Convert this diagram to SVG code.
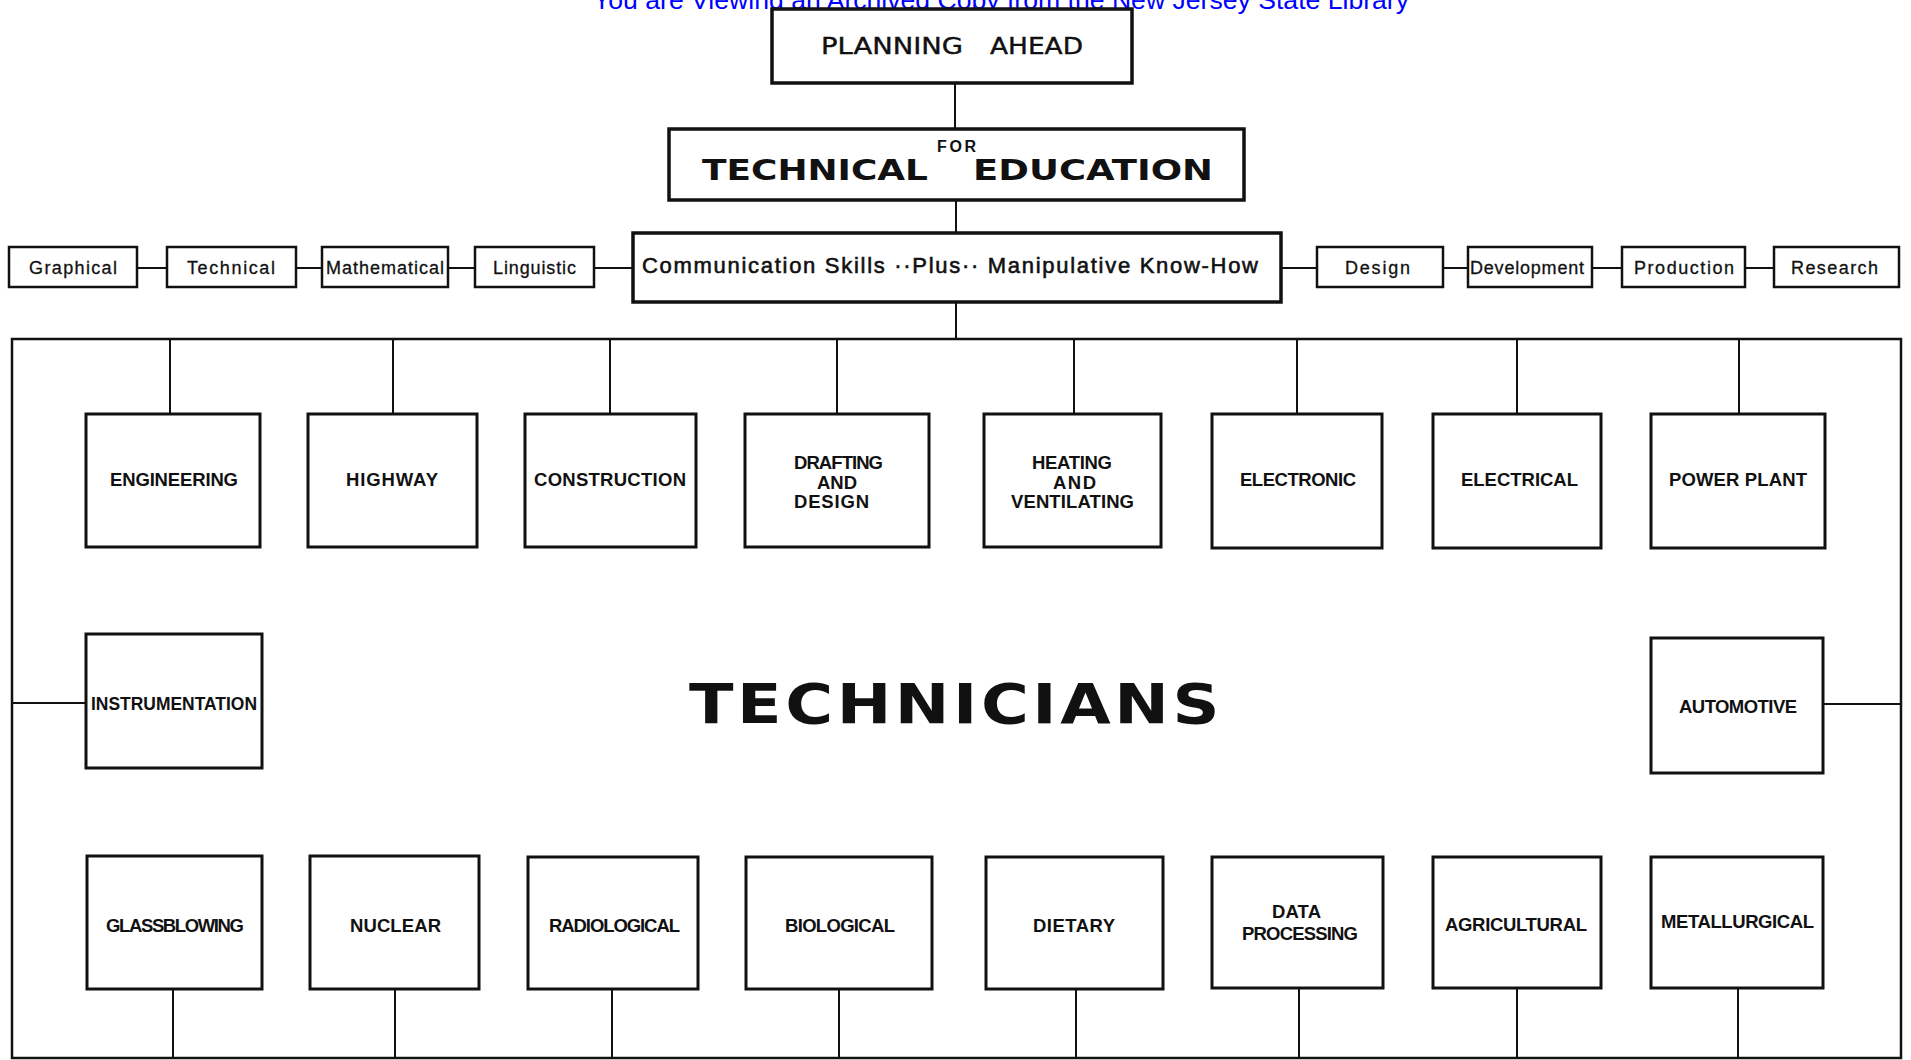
<svg xmlns="http://www.w3.org/2000/svg" width="1911" height="1060" viewBox="0 0 1911 1060">
<style>
  .bg { fill: #ffffff; }
  .box { fill: #ffffff; stroke: #111111; stroke-width: 3; }
  .hbox { fill: #ffffff; stroke: #111111; stroke-width: 3.5; }
  .sbox { fill: #ffffff; stroke: #111111; stroke-width: 2.5; }
  .conn { stroke: #111111; stroke-width: 2; fill: none; }
  .frame { stroke: #111111; stroke-width: 2.5; fill: none; }
  .lbl { font-family: "Liberation Sans", Arial, sans-serif; font-weight: bold; font-size: 18.5px; fill: #111111; }
  .sm { font-family: "Liberation Sans", Arial, sans-serif; font-size: 18px; fill: #111111; stroke: #111111; stroke-width: 0.3; }
  .mid { font-family: "Liberation Sans", Arial, sans-serif; font-size: 22px; fill: #111111; stroke: #111111; stroke-width: 0.6; }
  .head { font-family: "DejaVu Sans", "Liberation Sans", sans-serif; font-size: 23px; fill: #111111; stroke: #111111; stroke-width: 0.4; }
  .big { font-family: "DejaVu Sans", "Liberation Sans", sans-serif; font-weight: bold; font-size: 29px; fill: #111111; }
  .for { font-family: "Liberation Sans", Arial, sans-serif; font-weight: bold; font-size: 16px; fill: #111111; }
  .tech { font-family: "DejaVu Sans", "Liberation Sans", sans-serif; font-weight: bold; font-size: 55px; fill: #111111; letter-spacing: 3px; }
  .banner { font-family: "Liberation Sans", Arial, sans-serif; font-size: 26.5px; fill: #0000ff; }
</style>
<rect class="bg" x="0" y="0" width="1911" height="1060"/>

<g id="connectors">
  <line class="conn" x1="955" y1="83" x2="955" y2="129"/>
  <line class="conn" x1="956" y1="200" x2="956" y2="233"/>
  <line class="conn" x1="956" y1="302" x2="956" y2="339"/>
  <line class="conn" x1="137" y1="268" x2="167" y2="268"/>
  <line class="conn" x1="296" y1="268" x2="322" y2="268"/>
  <line class="conn" x1="448" y1="268" x2="475" y2="268"/>
  <line class="conn" x1="594" y1="268" x2="633" y2="268"/>
  <line class="conn" x1="1281" y1="268" x2="1317" y2="268"/>
  <line class="conn" x1="1443" y1="268" x2="1468" y2="268"/>
  <line class="conn" x1="1592" y1="268" x2="1622" y2="268"/>
  <line class="conn" x1="1745" y1="268" x2="1774" y2="268"/>
  <rect class="frame" x="12" y="339" width="1889" height="719"/>
  <line class="conn" x1="170" y1="339" x2="170" y2="414"/>
  <line class="conn" x1="393" y1="339" x2="393" y2="414"/>
  <line class="conn" x1="610" y1="339" x2="610" y2="414"/>
  <line class="conn" x1="837" y1="339" x2="837" y2="414"/>
  <line class="conn" x1="1074" y1="339" x2="1074" y2="414"/>
  <line class="conn" x1="1297" y1="339" x2="1297" y2="414"/>
  <line class="conn" x1="1517" y1="339" x2="1517" y2="414"/>
  <line class="conn" x1="1739" y1="339" x2="1739" y2="414"/>
  <line class="conn" x1="12" y1="703" x2="86" y2="703"/>
  <line class="conn" x1="1823" y1="704" x2="1901" y2="704"/>
  <line class="conn" x1="173" y1="989" x2="173" y2="1058"/>
  <line class="conn" x1="395" y1="989" x2="395" y2="1058"/>
  <line class="conn" x1="612" y1="989" x2="612" y2="1058"/>
  <line class="conn" x1="839" y1="989" x2="839" y2="1058"/>
  <line class="conn" x1="1076" y1="989" x2="1076" y2="1058"/>
  <line class="conn" x1="1299" y1="989" x2="1299" y2="1058"/>
  <line class="conn" x1="1517" y1="989" x2="1517" y2="1058"/>
  <line class="conn" x1="1738" y1="989" x2="1738" y2="1058"/>
</g>

<text class="banner" x="593" y="8.5" textLength="816" lengthAdjust="spacingAndGlyphs">You are Viewing an Archived Copy from the New Jersey State Library</text>

<g id="planning-ahead">
  <rect class="hbox" x="772" y="9" width="360" height="74"/>
  <text class="head" x="821" y="54" textLength="142" lengthAdjust="spacingAndGlyphs">PLANNING</text>
  <text class="head" x="990" y="54" textLength="93" lengthAdjust="spacingAndGlyphs">AHEAD</text>
</g>

<g id="technical-education">
  <rect class="hbox" x="669" y="129" width="575" height="71"/>
  <text class="for" x="937" y="152" textLength="39" lengthAdjust="spacing">FOR</text>
  <text class="big" x="702" y="180" textLength="226" lengthAdjust="spacingAndGlyphs">TECHNICAL</text>
  <text class="big" x="973" y="180" textLength="240" lengthAdjust="spacingAndGlyphs">EDUCATION</text>
</g>

<g id="communication">
  <rect class="hbox" x="633" y="233" width="648" height="69"/>
  <text class="mid" x="642" y="273" textLength="616" lengthAdjust="spacing">Communication  Skills ··Plus·· Manipulative  Know-How</text>
</g>

<g id="graphical"><rect class="sbox" x="9" y="247" width="128" height="40"/><text class="sm" x="29" y="274" textLength="88" lengthAdjust="spacing">Graphical</text></g>
<g id="technical"><rect class="sbox" x="167" y="247" width="129" height="40"/><text class="sm" x="187" y="274" textLength="88" lengthAdjust="spacing">Technical</text></g>
<g id="mathematical"><rect class="sbox" x="322" y="247" width="126" height="40"/><text class="sm" x="326" y="274" textLength="118" lengthAdjust="spacing">Mathematical</text></g>
<g id="linguistic"><rect class="sbox" x="475" y="247" width="119" height="40"/><text class="sm" x="493" y="274" textLength="83" lengthAdjust="spacing">Linguistic</text></g>
<g id="design"><rect class="sbox" x="1317" y="247" width="126" height="40"/><text class="sm" x="1345" y="274" textLength="65" lengthAdjust="spacing">Design</text></g>
<g id="development"><rect class="sbox" x="1468" y="247" width="124" height="40"/><text class="sm" x="1470" y="274" textLength="114" lengthAdjust="spacing">Development</text></g>
<g id="production"><rect class="sbox" x="1622" y="247" width="123" height="40"/><text class="sm" x="1634" y="274" textLength="100" lengthAdjust="spacing">Production</text></g>
<g id="research"><rect class="sbox" x="1774" y="247" width="125" height="40"/><text class="sm" x="1791" y="274" textLength="87" lengthAdjust="spacing">Research</text></g>

<g id="engineering"><rect class="box" x="86" y="414" width="174" height="133"/><text class="lbl" x="110" y="486" textLength="128" lengthAdjust="spacing">ENGINEERING</text></g>
<g id="highway"><rect class="box" x="308" y="414" width="169" height="133"/><text class="lbl" x="346" y="486" textLength="92" lengthAdjust="spacing">HIGHWAY</text></g>
<g id="construction"><rect class="box" x="525" y="414" width="171" height="133"/><text class="lbl" x="534" y="486" textLength="152" lengthAdjust="spacing">CONSTRUCTION</text></g>
<g id="drafting"><rect class="box" x="745" y="414" width="184" height="133"/>
  <text class="lbl" x="794" y="469" textLength="89" lengthAdjust="spacing">DRAFTING</text>
  <text class="lbl" x="817" y="489" textLength="40" lengthAdjust="spacing">AND</text>
  <text class="lbl" x="794" y="508" textLength="75" lengthAdjust="spacing">DESIGN</text></g>
<g id="heating"><rect class="box" x="984" y="414" width="177" height="133"/>
  <text class="lbl" x="1032" y="469" textLength="80" lengthAdjust="spacing">HEATING</text>
  <text class="lbl" x="1053" y="489" textLength="43" lengthAdjust="spacing">AND</text>
  <text class="lbl" x="1011" y="508" textLength="123" lengthAdjust="spacing">VENTILATING</text></g>
<g id="electronic"><rect class="box" x="1212" y="414" width="170" height="134"/><text class="lbl" x="1240" y="486" textLength="116" lengthAdjust="spacing">ELECTRONIC</text></g>
<g id="electrical"><rect class="box" x="1433" y="414" width="168" height="134"/><text class="lbl" x="1461" y="486" textLength="117" lengthAdjust="spacing">ELECTRICAL</text></g>
<g id="power-plant"><rect class="box" x="1651" y="414" width="174" height="134"/><text class="lbl" x="1669" y="486" textLength="138" lengthAdjust="spacing">POWER  PLANT</text></g>

<g id="instrumentation"><rect class="box" x="86" y="634" width="176" height="134"/><text class="lbl" x="91" y="710" textLength="166" lengthAdjust="spacingAndGlyphs">INSTRUMENTATION</text></g>
<g id="technicians"><text class="tech" x="689" y="723" textLength="534" lengthAdjust="spacingAndGlyphs">TECHNICIANS</text></g>
<g id="automotive"><rect class="box" x="1651" y="638" width="172" height="135"/><text class="lbl" x="1679" y="713" textLength="118" lengthAdjust="spacing">AUTOMOTIVE</text></g>

<g id="glassblowing"><rect class="box" x="87" y="856" width="175" height="133"/><text class="lbl" x="106" y="932" textLength="138" lengthAdjust="spacing">GLASSBLOWING</text></g>
<g id="nuclear"><rect class="box" x="310" y="856" width="169" height="133"/><text class="lbl" x="350" y="932" textLength="91" lengthAdjust="spacing">NUCLEAR</text></g>
<g id="radiological"><rect class="box" x="528" y="857" width="170" height="132"/><text class="lbl" x="549" y="932" textLength="131" lengthAdjust="spacing">RADIOLOGICAL</text></g>
<g id="biological"><rect class="box" x="746" y="857" width="186" height="132"/><text class="lbl" x="785" y="932" textLength="110" lengthAdjust="spacing">BIOLOGICAL</text></g>
<g id="dietary"><rect class="box" x="986" y="857" width="177" height="132"/><text class="lbl" x="1033" y="932" textLength="82" lengthAdjust="spacing">DIETARY</text></g>
<g id="data-processing"><rect class="box" x="1212" y="857" width="171" height="131"/>
  <text class="lbl" x="1272" y="918" textLength="49" lengthAdjust="spacing">DATA</text>
  <text class="lbl" x="1242" y="940" textLength="116" lengthAdjust="spacing">PROCESSING</text></g>
<g id="agricultural"><rect class="box" x="1433" y="857" width="168" height="131"/><text class="lbl" x="1445" y="931" textLength="142" lengthAdjust="spacing">AGRICULTURAL</text></g>
<g id="metallurgical"><rect class="box" x="1651" y="857" width="172" height="131"/><text class="lbl" x="1661" y="928" textLength="153" lengthAdjust="spacing">METALLURGICAL</text></g>
</svg>
